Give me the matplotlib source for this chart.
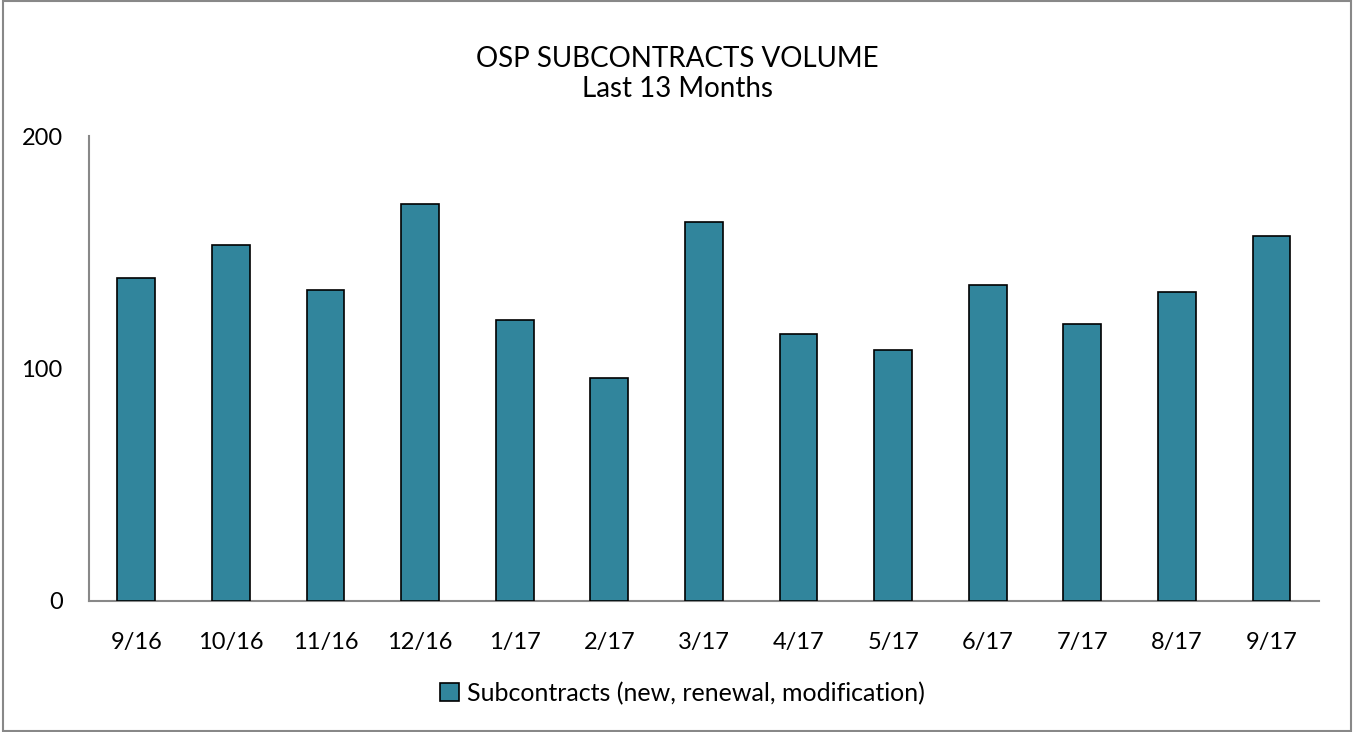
import matplotlib
matplotlib.use('Agg')
import matplotlib.pyplot as plt
from matplotlib.patches import Rectangle

plt.rcParams['font.family'] = ['Lato', 'DejaVu Sans']

months = ['9/16', '10/16', '11/16', '12/16', '1/17', '2/17', '3/17',
          '4/17', '5/17', '6/17', '7/17', '8/17', '9/17']
subcontracts = [139, 153, 134, 171, 121, 96, 163, 115, 108, 136, 119, 133, 157]

fig = plt.figure(figsize=(13.54, 7.32), dpi=100)
ax = fig.add_axes([0.0657, 0.179, 0.9083, 0.635])

x = range(len(months))
ax.bar(x, subcontracts, width=0.4, color='#31859C', edgecolor='black',
       linewidth=1.2, label='Subcontracts (new, renewal, modification)', zorder=3)

ax.set_xlim(-0.5, len(months) - 0.5)
ax.set_ylim(0, 200)
ax.set_yticks([0, 100, 200])
ax.set_xticks(list(x))
ax.set_xticklabels(months)
ax.tick_params(axis='both', length=0, labelsize=17, colors='black')
ax.tick_params(axis='x', pad=22)
ax.tick_params(axis='y', pad=19)

for s in ['top', 'right']:
    ax.spines[s].set_visible(False)
for s in ['left', 'bottom']:
    ax.spines[s].set_color('#888888')
    ax.spines[s].set_linewidth(1.5)

fig.text(0.5, 0.920, 'OSP SUBCONTRACTS VOLUME', ha='center', va='center', fontsize=20)
fig.text(0.5, 0.879, 'Last 13 Months', ha='center', va='center', fontsize=20)

fig.legend(loc='center', bbox_to_anchor=(0.504, 0.053), frameon=False,
           fontsize=18, handlelength=0.75, handleheight=0.75, handletextpad=0.3)

# outer border of the chart area
fig.patches.append(Rectangle((0.002, 0.002), 0.996, 0.996, transform=fig.transFigure,
                             fill=False, edgecolor='#888888', linewidth=1.5))

plt.savefig('out.png', dpi=100)
